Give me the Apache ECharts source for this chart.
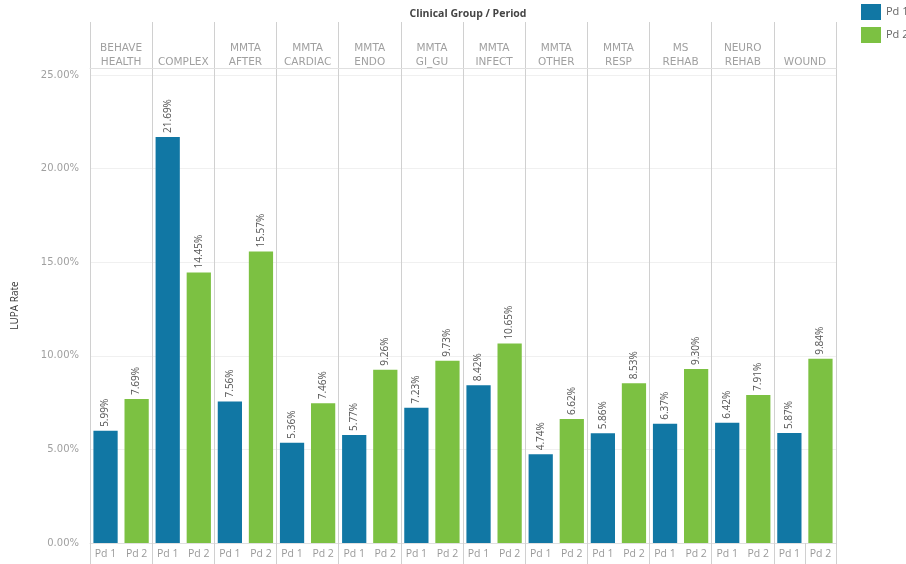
<!DOCTYPE html>
<html><head><meta charset="utf-8">
<script src="https://cdn.jsdelivr.net/npm/echarts@6/dist/echarts.min.js"></script>
<style>html,body{margin:0;padding:0;background:#fff}#c{width:906px;height:564px}</style>
</head><body><div id="c"></div>
<script>
const groups = ['BEHAVE\nHEALTH','COMPLEX','MMTA\nAFTER','MMTA\nCARDIAC','MMTA\nENDO','MMTA\nGI_GU','MMTA\nINFECT','MMTA\nOTHER','MMTA\nRESP','MS\nREHAB','NEURO\nREHAB','WOUND'];
const periods = ['Pd 1','Pd 2'];
const pd1Values = [5.99,21.69,7.56,5.36,5.77,7.23,8.42,4.74,5.86,6.37,6.42,5.87];
const pd2Values = [7.69,14.45,15.57,7.46,9.26,9.73,10.65,6.62,8.53,9.30,7.91,9.84];
const yTicks = [0,5,10,15,20,25];

const cats = [];
const d1 = [], d2 = [];
groups.forEach((g,i)=>{
  cats.push(periods[0]); cats.push(periods[1]);
  d1.push(pd1Values[i]); d1.push('-');
  d2.push('-'); d2.push(pd2Values[i]);
});
const FONT = 'Open Sans';
const WIDE = 'DejaVu Sans';
const labelCfg = {show:true, position:'top', rotate:90, align:'left', verticalAlign:'middle', distance:4,
  color:'#555', fontSize:10, fontFamily:FONT, formatter:p=>p.value.toFixed(2)+'%'};
const chart = echarts.init(document.getElementById('c'), null, {renderer:'canvas'});
chart.setOption({
  animation:false,
  textStyle:{fontFamily:FONT},
  title:{text:'Clinical Group / Period', left:463, top:4, textAlign:'center',
    textStyle:{fontSize:10.5, fontWeight:'bold', color:'#444', fontFamily:FONT}},
  legend:{left:856, top:-1, orient:'vertical', itemWidth:20, itemHeight:16, itemGap:7, icon:'rect',
    textStyle:{fontSize:11, color:'#666', fontFamily:FONT}, data:['Pd 1','Pd 2']},
  grid:{left:90, right:70, top:68, bottom:21},
  xAxis:[
    {type:'category', data:cats, position:'bottom',
      axisLine:{show:true, lineStyle:{color:'#e0e0e0'}},
      axisTick:{show:true, interval:1, length:21, lineStyle:{color:'#d0d0d0'}},
      axisLabel:{color:'#999', fontSize:10.5, margin:6, interval:0, fontFamily:FONT},
      splitLine:{show:false}},
    {type:'category', data:groups, position:'top',
      axisLine:{show:true, lineStyle:{color:'#e0e0e0'}},
      axisTick:{show:true, length:46, lineStyle:{color:'#d0d0d0'}},
      axisLabel:{color:'#a0a0a0', fontSize:10.5, margin:-1, interval:0, lineHeight:14, fontFamily:WIDE},
      splitLine:{show:true, lineStyle:{color:'#d0d0d0'}}}
  ],
  yAxis:{type:'value', min:0, max:25.37, interval:5, name:'LUPA Rate', nameLocation:'middle', nameGap:70,
    nameTextStyle:{fontSize:10, color:'#333', fontFamily:FONT},
    axisLine:{show:true, lineStyle:{color:'#d0d0d0'}}, axisTick:{show:false},
    axisLabel:{color:'#a0a0a0', fontSize:10, margin:11, fontFamily:WIDE,
      formatter:v=> yTicks.indexOf(Math.round(v*100)/100)>=0 ? v.toFixed(2)+'%' : ''},
    splitLine:{show:true, lineStyle:{color:'#f0f0f0'}}},
  series:[
    {name:'Pd 1', type:'bar', stack:'s', data:d1, barCategoryGap:'22%', itemStyle:{color:'#1177a4'}, label:labelCfg},
    {name:'Pd 2', type:'bar', stack:'s', data:d2, barCategoryGap:'22%', itemStyle:{color:'#7cc142'}, label:labelCfg}
  ]
});
</script></body></html>
